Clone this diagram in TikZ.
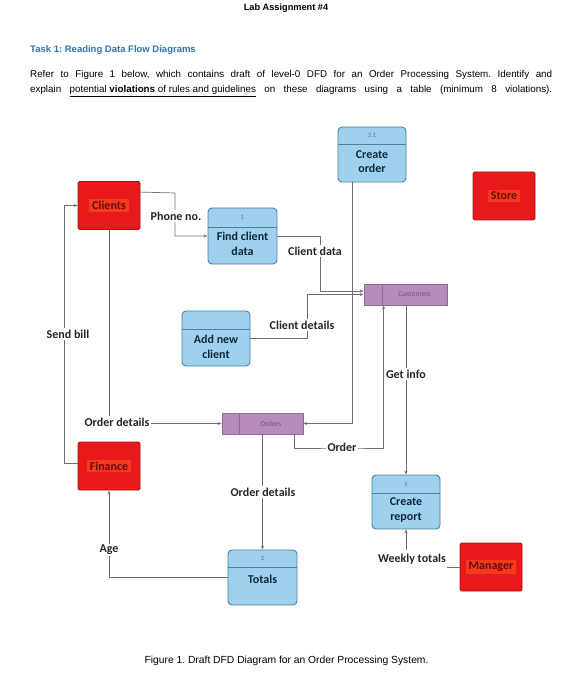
\documentclass[tikz,border=0pt]{standalone}
\usepackage{fontspec}
\setmainfont{Liberation Sans}
\newfontfamily\calib{Carlito}
\usetikzlibrary{arrows.meta,calc}
\frenchspacing
\definecolor{procF}{HTML}{9DD1EE}
\definecolor{procB}{HTML}{4F7FA3}
\definecolor{navyT}{HTML}{10263F}
\definecolor{stF}{HTML}{B58CBA}
\definecolor{stB}{HTML}{8E6A94}
\definecolor{stT}{HTML}{76547E}
\definecolor{entF}{HTML}{E8181B}
\definecolor{entB}{HTML}{A51216}
\definecolor{entI}{HTML}{F43A1E}
\definecolor{entT}{HTML}{6A0A0A}
\definecolor{lineC}{HTML}{707070}
\definecolor{taskC}{HTML}{2F75B5}
\begin{document}
\begin{tikzpicture}[x=1pt,y=-1pt,
  proc/.style={draw=procB, fill=procF, rounded corners=4pt, line width=0.9pt, inner sep=0pt},
  ent/.style={draw=entB, fill=entF, rounded corners=1.5pt, line width=0.8pt, inner sep=0pt, minimum width=62pt, minimum height=48pt},
  store/.style={draw=stB, fill=stF, line width=0.8pt, inner sep=0pt, minimum height=21pt},
  flow/.style={draw=lineC, line width=0.7pt, -{Stealth[length=4pt,width=3pt]}},
  lbl/.style={fill=white, inner sep=1.5pt, font=\calib\bfseries\fontsize{12}{14}\selectfont, text=black!85},
  pname/.style={font=\calib\bfseries\fontsize{12}{14.5}\selectfont, text=navyT, align=center, inner sep=0pt},
  pnum/.style={font=\calib\fontsize{6.5}{7}\selectfont, text=procB, inner sep=0pt},
  ename/.style={fill=entI, inner xsep=3pt, inner ysep=2pt, font=\calib\bfseries\fontsize{12}{14}\selectfont, text=entT},
  sname/.style={font=\calib\fontsize{7.5}{8}\selectfont, text=stT, inner sep=0pt},
  divline/.style={draw=procB, line width=0.9pt},
  hdr/.style={inner sep=0pt, font=\fontsize{9.8}{11}\selectfont}
]
\useasboundingbox (0,0) rectangle (572,700);
\fill[white] (0,0) rectangle (572,700);

% ---------- header ----------
\node[inner sep=0pt, font=\bfseries\fontsize{9.2}{11}\selectfont] (title) at (286,8) {Lab Assignment \#4};
\node[inner sep=0pt, anchor=west, text=taskC, font=\bfseries\fontsize{9.5}{11}\selectfont] (task) at (30,50) {Task 1: Reading Data Flow Diagrams};
\node[hdr, anchor=west] (par1) at (30,75) {\makebox[522pt][s]{Refer to Figure 1 below, which contains draft of level-0 DFD for an Order Processing System. Identify and}};
\node[hdr, anchor=west] (par2) at (30,91) {\makebox[522pt][s]{explain \underline{potential \textbf{violations} of rules and guidelines} on these diagrams using a table (minimum 8 violations).}};
\node[hdr, font=\fontsize{10.3}{12}\selectfont] (caption) at (286.5,661) {Figure 1. Draft DFD Diagram for an Order Processing System.};

% ---------- processes ----------
\node[proc, minimum width=68pt, minimum height=55pt] (createorder) at (372,154.5) {};
\draw[divline] (createorder.west |- 0,144) -- (createorder.east |- 0,144);
\node[pnum] (n31) at (372,135.5) {3.1};
\node[pname] (t31) at (372,161.5) {Create\\order};

\node[proc, minimum width=69pt, minimum height=56pt] (find) at (242.5,236) {};
\draw[divline] (find.west |- 0,227) -- (find.east |- 0,227);
\node[pnum] (n1) at (242.5,217.5) {1};
\node[pname] (t1) at (242.5,244) {Find client\\data};

\node[proc, minimum width=68pt, minimum height=55pt] (addnew) at (216,338.5) {};
\draw[divline] (addnew.west |- 0,329) -- (addnew.east |- 0,329);
\node[pname] (tnew) at (216,347) {Add new\\client};

\node[proc, minimum width=68pt, minimum height=54pt] (report) at (406,502) {};
\draw[divline] (report.west |- 0,493) -- (report.east |- 0,493);
\node[pnum] (n5) at (406,484) {5};
\node[pname] (t5) at (406,510) {Create\\report};

\node[proc, minimum width=69pt, minimum height=55pt] (totals) at (262.5,577.5) {};
\draw[divline] (totals.west |- 0,567) -- (totals.east |- 0,567);
\node[pnum] (n2) at (262.5,558.5) {2};
\node[pname] (t2) at (262.5,579) {Totals};

% ---------- entities ----------
\node[ent] (clients) at (109,205.5) {};
\node[ename] (tclients) at (clients) {Clients};
\node[ent] (store) at (504,196) {};
\node[ename] (tstore) at (store) {Store};
\node[ent] (finance) at (109,466) {};
\node[ename] (tfinance) at (finance) {Finance};
\node[ent] (manager) at (491,567) {};
\node[ename] (tmanager) at (manager) {Manager};

% ---------- data stores ----------
\node[store, minimum width=83pt] (customers) at (405.5,294.5) {};
\draw[draw=stB, line width=0.8pt] (customers.north west -| 382,0) -- (customers.south west -| 382,0);
\node[sname] (tcust) at (414.5,294.5) {Customers};
\node[store, minimum width=81pt] (orders) at (262.5,423.5) {};
\draw[draw=stB, line width=0.8pt] (orders.north west -| 239,0) -- (orders.south west -| 239,0);
\node[sname] (tord) at (271,423.5) {Orders};

% ---------- flows ----------
\draw[flow] ([yshift=-11pt]clients.north east) -- (175,193) -- (175,236) -- (find.west);
\node[lbl] (lphone) at (176,216) {Phone no.};

\draw[flow] (find.east) -- (320,236) |- ([yshift=3.5pt]customers.west);
\node[lbl] (lcdata) at (315,251) {Client data};

\draw[flow] (addnew.east) -- (307,338.5) |- (customers.west);
\node[lbl] (lcdet) at (302,325) {Client details};

\draw[flow] ([xshift=-20pt]createorder.south) |- (orders.east);

\draw[flow] ([xshift=-9pt]orders.south east) |- (346,448) -| ([xshift=20pt]customers.south west);
\node[lbl] (lorder) at (342,447) {Order};

\draw[flow] (customers.south -| report.north) -- (report.north);
\node[lbl] (lget) at (406,374) {Get info};

\draw[flow] (clients.south) |- (orders.west);
\node[lbl] (lod1) at (117,422) {Order details};

\draw[flow] ([yshift=3pt]finance.west) -- (64,463) |- (clients.west);
\node[lbl] (lbill) at (68,334) {Send bill};

\draw[flow] (orders.south) -- (totals.north);
\node[lbl] (lod2) at (263,492) {Order details};

\draw[flow] (totals.west) -| (finance.south);
\node[lbl] (lage) at (109,550) {Age};

\draw[flow] (manager.west) -| (report.south);
\node[lbl, inner ysep=4pt] (lweek) at (412,559) {Weekly totals};
\end{tikzpicture}
\end{document}
